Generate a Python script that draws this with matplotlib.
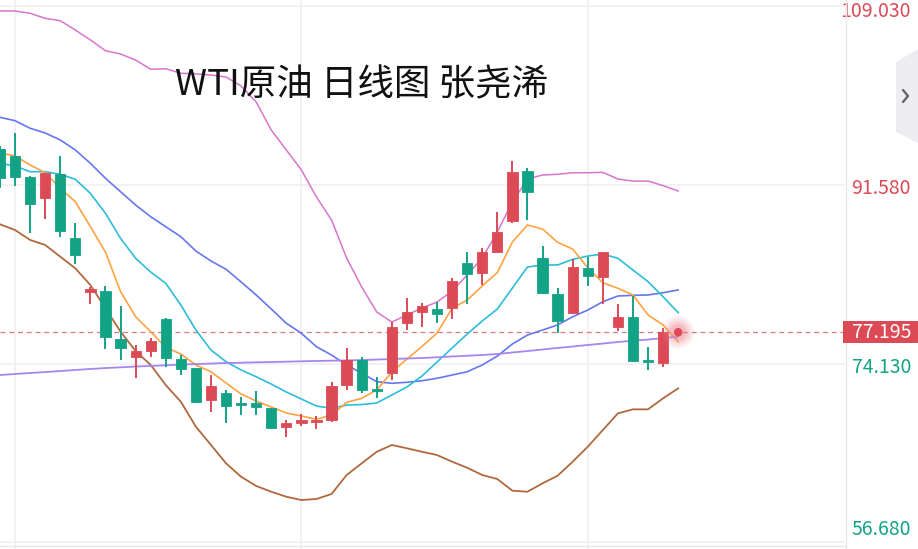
import matplotlib
matplotlib.use("Agg")
import matplotlib.pyplot as plt
import matplotlib.transforms as mtransforms
from matplotlib.patches import Polygon, Rectangle
from matplotlib.lines import Line2D
import numpy as np

plt.rcParams['font.family'] = ['Noto Sans CJK SC', 'DejaVu Sans']

# ---------------- data (prices) ----------------
opens  = [95.08, 94.39, 92.37, 90.32, 92.64, 86.36, 81.12, 81.22, 76.53, 74.81,
          75.39, 78.46, 74.63, 73.75, 70.58, 71.29, 70.32, 70.26, 69.83, 67.92,
          68.36, 68.46, 68.63, 72.04, 74.48, 71.62, 73.24, 78.07, 79.20, 79.46,
          79.53, 83.98, 83.00, 85.05, 88.05, 92.93, 84.41, 80.93, 79.04, 83.43,
          82.61, 77.73, 78.71, 74.42, 74.22, 77.195]
highs  = [95.37, 96.61, 92.47, 92.71, 94.39, 87.83, 81.61, 81.71, 79.75, 75.92,
          76.66, 78.55, 74.97, 73.75, 73.02, 71.56, 70.84, 71.46, 69.83, 68.63,
          69.18, 69.02, 72.31, 75.66, 74.78, 72.85, 78.22, 80.51, 80.08, 80.17,
          82.52, 85.05, 85.46, 88.96, 93.94, 93.22, 85.61, 81.51, 84.34, 84.51,
          85.02, 79.92, 80.73, 75.78, 77.58, 77.195]
lows   = [91.24, 91.47, 86.91, 88.27, 86.52, 83.85, 79.95, 75.53, 74.48, 72.76,
          74.81, 73.77, 73.02, 70.26, 69.38, 68.36, 69.12, 69.12, 67.75, 67.00,
          68.07, 67.72, 68.46, 71.56, 71.23, 70.75, 72.53, 77.41, 77.73, 78.07,
          78.46, 79.95, 81.80, 84.90, 87.86, 88.15, 80.93, 77.15, 78.94, 81.71,
          79.95, 77.31, 74.30, 73.51, 73.77, 77.195]
closes = [92.28, 92.37, 89.71, 92.71, 87.10, 84.73, 81.38, 76.70, 75.68, 75.36,
          76.37, 74.65, 73.65, 70.41, 71.98, 69.99, 70.12, 69.87, 67.88, 68.31,
          68.66, 68.63, 71.98, 74.44, 71.51, 71.49, 77.73, 79.17, 79.78, 78.94,
          82.22, 82.88, 85.00, 86.95, 92.80, 90.91, 81.05, 78.29, 83.59, 82.71,
          85.02, 78.71, 74.39, 74.29, 77.195, 77.195]

boll_upper = [108.55, 108.55, 108.32, 107.83, 107.60, 106.69, 105.72, 104.67, 104.35, 103.76,
              102.86, 102.91, 102.47, 102.40, 102.30, 102.10, 101.23, 99.66, 96.93, 94.98,
              93.03, 90.39, 88.15, 84.44, 81.61, 79.17, 78.19, 78.88, 79.56, 80.14,
              81.22, 82.78, 84.44, 86.98, 89.90, 92.15, 92.54, 92.61, 92.76, 92.76,
              92.80, 92.15, 91.95, 91.95, 91.50, 90.98]
boll_mid   = [98.17, 97.84, 97.10, 96.64, 95.96, 94.98, 93.68, 92.22, 90.91, 89.61,
              88.47, 87.49, 86.52, 85.12, 84.15, 83.34, 82.10, 80.83, 79.46, 78.07,
              77.09, 75.78, 74.97, 74.00, 73.19, 72.37, 72.21, 72.31, 72.46, 72.70,
              73.02, 73.34, 74.00, 74.87, 76.05, 76.92, 77.41, 77.90, 78.71, 79.36,
              80.17, 80.73, 80.80, 80.83, 81.05, 81.32]
boll_lower = [87.73, 87.17, 86.20, 85.71, 84.57, 83.43, 81.80, 79.53, 77.25, 75.36,
              74.00, 72.04, 70.41, 67.97, 66.19, 64.40, 63.09, 62.19, 61.63, 61.14,
              60.82, 60.92, 61.41, 63.26, 64.40, 65.53, 66.19, 65.87, 65.53, 65.21,
              64.56, 63.97, 63.26, 62.87, 61.73, 61.63, 62.45, 63.19, 64.56, 66.02,
              67.65, 69.28, 69.67, 69.67, 70.75, 71.72]
ma5  = [94.72, 94.39, 93.52, 92.76, 91.24, 89.93, 87.49, 85.02, 81.15, 78.71,
        77.25, 75.72, 75.07, 74.00, 73.34, 72.24, 71.17, 70.48, 69.90, 69.31,
        69.02, 68.70, 69.12, 70.34, 70.75, 71.56, 73.31, 74.58, 75.80, 77.12,
        79.53, 80.34, 81.71, 83.02, 86.00, 87.66, 87.27, 85.97, 85.32, 83.49,
        82.03, 81.48, 80.83, 78.88, 77.90, 76.27]
ma10 = [93.68, 93.42, 92.86, 92.86, 92.61, 92.12, 90.75, 88.80, 86.36, 84.41,
        83.07, 81.97, 79.85, 77.41, 75.46, 74.32, 73.51, 72.85, 72.14, 71.36,
        70.68, 69.99, 69.77, 70.09, 70.14, 70.29, 71.07, 71.85, 72.92, 74.29,
        75.66, 77.02, 78.29, 79.46, 81.51, 83.56, 83.76, 83.76, 84.31, 84.63,
        84.83, 84.41, 83.27, 82.13, 80.66, 79.10]
ma_long = [73.02, 73.12, 73.22, 73.31, 73.41, 73.51, 73.61, 73.70, 73.77, 73.85,
           73.90, 73.97, 74.03, 74.09, 74.14, 74.19, 74.22, 74.26, 74.29, 74.32,
           74.36, 74.39, 74.42, 74.45, 74.48, 74.53, 74.58, 74.63, 74.68, 74.75,
           74.83, 74.90, 74.97, 75.07, 75.22, 75.36, 75.51, 75.66, 75.80, 75.95,
           76.09, 76.24, 76.37, 76.48, 76.63, 76.76]

y_ticks = [109.03, 91.58, 74.13, 56.68]
y_tick_labels = ["109.030", "91.580", "74.130", "56.680"]
current_price = 77.195
current_label = "77.195"
title = "WTI原油 日线图 张尧浠"
v_grid_idx = [1, 20, 39]

# ---------------- style ----------------
RED = "#dc4a56"
GREEN = "#12a386"
GRID = "#f0f0f4"

W, H = 918, 549
fig = plt.figure(figsize=(W / 100, H / 100), dpi=100)
fig.patch.set_facecolor("white")
ax = fig.add_axes([0, 0, 845 / W, 1])
ax.set_facecolor("white")
for s in ax.spines.values():
    s.set_visible(False)
ax.set_xticks([])
ax.set_yticks([])
ax.set_xlim(0, 56.07)
ax.set_ylim(56.04, 109.62)

# grid
for yv in y_ticks:
    ax.axhline(yv, color=GRID, lw=1.2, zorder=0)
for xv in v_grid_idx:
    ax.axvline(xv, color=GRID, lw=1.2, zorder=0)

x = np.arange(len(closes))
n_candles = len(closes) - 1  # last one is the live doji hidden under the dot

# bands and MAs
ax.plot(x, boll_upper, color="#d874cf", lw=1.1, zorder=2)
ax.plot(x, boll_lower, color="#b0683d", lw=1.3, zorder=2)
ax.plot(x, boll_mid, color="#6577f0", lw=1.2, zorder=2)
ax.plot(x, ma10, color="#2cbdd9", lw=1.2, zorder=2)
ax.plot(x, ma5, color="#ffa242", lw=1.2, zorder=2)
ax.plot(x, ma_long, color="#a586ee", lw=1.3, zorder=2)

# candles
for i in range(n_candles):
    o, h, l, c = opens[i], highs[i], lows[i], closes[i]
    col = RED if c >= o else GREEN
    ax.vlines(i, l, h, color=col, lw=1.4, zorder=3)
    bot = min(o, c)
    ht = max(abs(c - o), 0.18)
    ax.bar(i, ht, bottom=bot, width=0.68, color=col, edgecolor=col,
           linewidth=0.6, zorder=4)

# current price dashed line
ax.axhline(current_price, color="#e07a82", lw=0.9, ls=(0, (4, 3)), zorder=1)

# live dot with glow
last = len(closes) - 1
for s_, a_ in [(560, 0.10), (400, 0.14), (260, 0.2), (150, 0.3)]:
    ax.scatter([last], [current_price], s=s_, color="#f08a94", alpha=a_,
               edgecolors="none", zorder=5)
ax.scatter([last], [current_price], s=38, color="#e04a58", edgecolors="none", zorder=6)

# title
fig.text(175 / W, 1 - 85 / H, title, fontsize=26.3, color="#111111",
         ha="left", va="center")

# right axis separator
fig.add_artist(Line2D([846 / W, 846 / W], [0, 1], color="#e6e6ec", lw=1.0))
fig.add_artist(Line2D([0, 846 / W], [3 / H, 3 / H], color="#e6e6ec", lw=1.0))

# price labels
trans = mtransforms.blended_transform_factory(fig.transFigure, ax.transData)
offsets = [-4.0, -2.5, -2.5, 9.0]
for yv, lab, off in zip(y_ticks, y_tick_labels, offsets):
    col = RED if yv > current_price else GREEN
    ax.annotate(lab, xy=(911 / W, yv), xycoords=trans, xytext=(0, off),
                textcoords="offset points", fontsize=14, color=col,
                ha="right", va="center", annotation_clip=False)

# current price box
box_h = 22 / H
cp_fig_y = fig.transFigure.inverted().transform(
    ax.transData.transform((0, current_price)))[1]
fig.add_artist(Rectangle((843 / W, cp_fig_y - box_h / 2), 75 / W, box_h,
                         transform=fig.transFigure, fc=RED, ec="none", zorder=9))
fig.text(911 / W, cp_fig_y, current_label, fontsize=14, color="white",
         ha="right", va="center", zorder=10)

# side tab with chevron
tab = Polygon([(896 / W, 1 - 62 / H), (918 / W, 1 - 49 / H),
               (918 / W, 1 - 143 / H), (896 / W, 1 - 132 / H)],
              closed=True, transform=fig.transFigure, fc="#ececf1", ec="none")
fig.add_artist(tab)
fig.add_artist(Line2D([903 / W, 908 / W, 903 / W],
                      [1 - 90 / H, 1 - 96 / H, 1 - 102 / H],
                      color="#5a5f6b", lw=1.6, solid_capstyle="round"))

fig.savefig("out.png", dpi=100, facecolor="white")
